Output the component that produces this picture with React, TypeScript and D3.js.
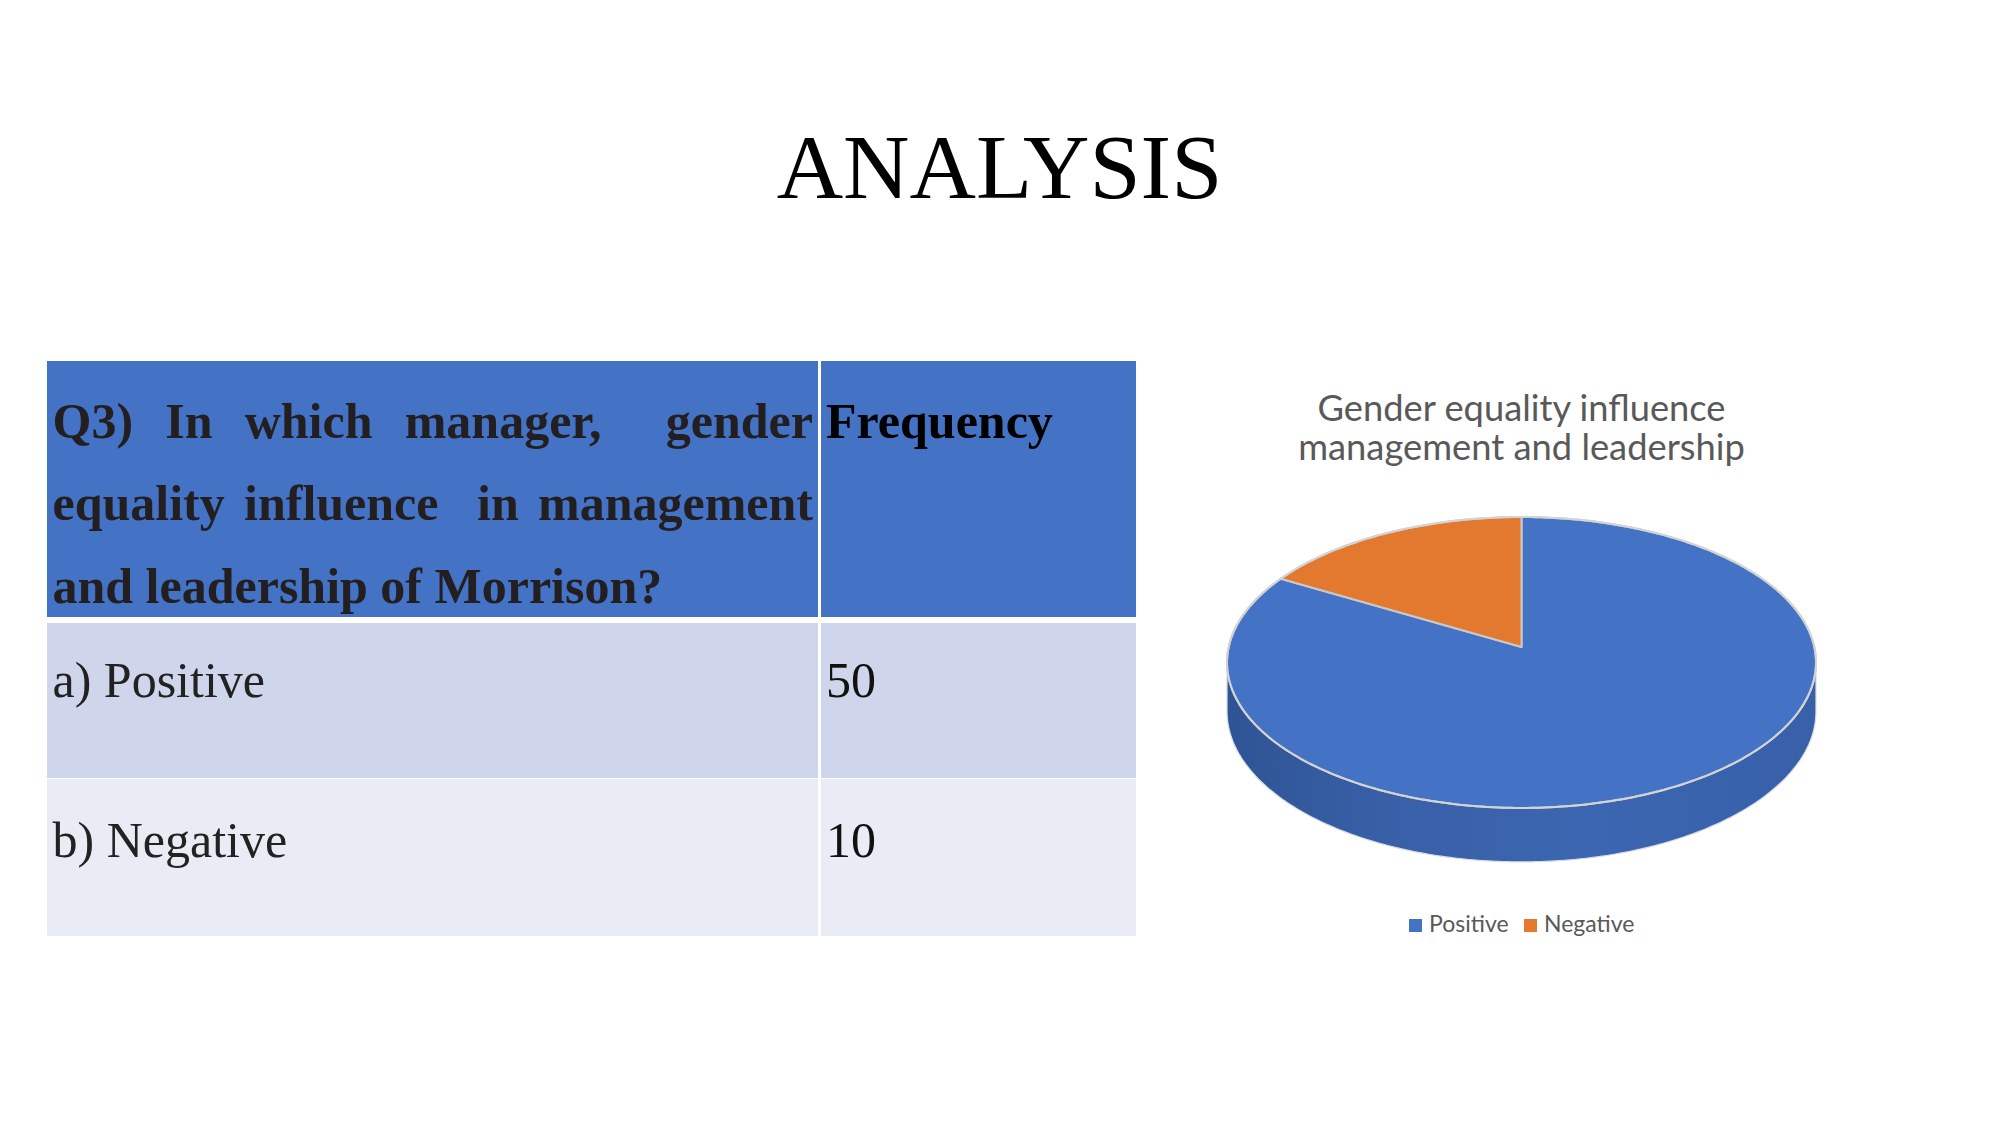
import React from "react";
import * as d3 from "d3";

// ---- data ----
const categories = ["Positive", "Negative"];
const frequencies = [50, 10];
const rowLabels = ["a) Positive", "b) Negative"];
const headerLines = ["Q3) In which manager,  gender", "equality influence  in management", "and leadership of Morrison?"];
const headerJustify = [true, true, false];
const frequencyHeader = "Frequency";
const slideTitle = "ANALYSIS";
const chartTitleLines = ["Gender equality influence", "management and leadership"];
const sliceColors = ["#4472C4", "#E2792F"];

const W = 2001;
const H = 1125;

function measure(text: string, font: string): number {
  const c = document.createElement("canvas").getContext("2d")!;
  c.font = font;
  return c.measureText(text).width;
}

function JustifiedLine({ text, x, y, width, justify, fontSize, fill }: any) {
  const fontStr = `bold ${fontSize}px "Liberation Serif"`;
  if (!justify) {
    return (
      <text x={x} y={y} fontFamily='"Liberation Serif"' fontWeight="bold" fontSize={fontSize} fill={fill}>
        {text}
      </text>
    );
  }
  const natural = measure(text, fontStr);
  const nSpaces = (text.match(/ /g) || []).length;
  const extra = nSpaces > 0 ? (width - natural) / nSpaces : 0;
  const spaceW = measure(" ", fontStr);
  const parts = text.split(" ");
  const out: any[] = [];
  let cx = x;
  parts.forEach((p, i) => {
    if (p.length > 0) {
      out.push(
        <text key={i} x={cx} y={y} fontFamily='"Liberation Serif"' fontWeight="bold" fontSize={fontSize} fill={fill}>
          {p}
        </text>
      );
      cx += measure(p, fontStr);
    }
    if (i < parts.length - 1) cx += spaceW + extra;
  });
  return <g>{out}</g>;
}

export default function App() {
  // perspective pie projection
  const pcx = 1521.5;
  const pcy = 647;
  const A = 143.8;
  const B = 292.8;
  const k = 0.1065;
  const depthD = 48.2;

  const proj = (phi: number, r = 1, dz = 0): [number, number] => {
    const u = r * Math.sin(phi);
    const v = -r * Math.cos(phi);
    const den = 1 - k * v;
    return [pcx + (B * u) / den, pcy + (A * v) / den + dz / den];
  };

  const pie = d3.pie<number>().sort(null).value((d) => d)(frequencies);
  const line = d3.line<[number, number]>();

  const slicePaths = pie.map((s) => {
    const n = Math.max(8, Math.ceil(((s.endAngle - s.startAngle) / (2 * Math.PI)) * 360));
    const pts: [number, number][] = [[pcx, pcy]];
    for (let i = 0; i <= n; i++) {
      const a = s.startAngle + ((s.endAngle - s.startAngle) * i) / n;
      pts.push(proj(a));
    }
    return line(pts) + "Z";
  });

  const phiR = Math.acos(-k);
  const phiL = 2 * Math.PI - phiR;
  const sidePts: [number, number][] = [];
  const N = 200;
  for (let i = 0; i <= N; i++) sidePts.push(proj(phiR + ((phiL - phiR) * i) / N));
  for (let i = N; i >= 0; i--) sidePts.push(proj(phiR + ((phiL - phiR) * i) / N, 1, depthD));
  const sidePath = line(sidePts) + "Z";

  const rimPts: [number, number][] = [];
  for (let i = 0; i <= 360; i++) rimPts.push(proj((i / 360) * 2 * Math.PI));
  const rimPath = line(rimPts) + "Z";

  // table layout
  const tx0 = 47;
  const c1r = 818;
  const c2l = 821;
  const tx1 = 1136;
  const hy0 = 361;
  const hy1 = 617;
  const rows = [
    { y0: 623, y1: 778, fill: "#CFD5EA", base: 697 },
    { y0: 779, y1: 936, fill: "#E9EBF5", base: 857 },
  ];
  const fs = 50;
  const headerBaselines = [438, 520, 603];

  // legend
  const legendX = [1409, 1524];
  const legendY = 919;

  return (
    <svg width={W} height={H} style={{ position: "absolute", left: 0, top: 0, background: "#fff" }}>
      <rect x={0} y={0} width={W} height={H} fill="#fff" />
      <text x={999.5} y={198} textAnchor="middle" fontFamily='"Liberation Serif"' fontSize={92} fill="#000">
        {slideTitle}
      </text>

      {/* table */}
      <rect x={tx0} y={hy0} width={c1r - tx0} height={hy1 - hy0} fill="#4472C4" />
      <rect x={c2l} y={hy0} width={tx1 - c2l} height={hy1 - hy0} fill="#4472C4" />
      {rows.map((r, i) => (
        <g key={i}>
          <rect x={tx0} y={r.y0} width={c1r - tx0} height={r.y1 - r.y0} fill={r.fill} />
          <rect x={c2l} y={r.y0} width={tx1 - c2l} height={r.y1 - r.y0} fill={r.fill} />
        </g>
      ))}
      {headerLines.map((t, i) => (
        <JustifiedLine key={i} text={t} x={52.5} y={headerBaselines[i]} width={813 - 52.5} justify={headerJustify[i]} fontSize={fs} fill="#231F20" />
      ))}
      <text x={826} y={headerBaselines[0]} fontFamily='"Liberation Serif"' fontWeight="bold" fontSize={fs} fill="#000">
        {frequencyHeader}
      </text>
      {rows.map((r, i) => (
        <g key={"t" + i}>
          <text x={52.5} y={r.base} fontFamily='"Liberation Serif"' fontSize={fs} fill="#222">
            {rowLabels[i]}
          </text>
          <text x={826} y={r.base} fontFamily='"Liberation Serif"' fontSize={fs} fill="#111">
            {String(frequencies[i])}
          </text>
        </g>
      ))}

      {/* chart */}
      <text textAnchor="middle" fontFamily="Lato" fontSize={36.3} fill="#595959">
        {chartTitleLines.map((t, i) => (
          <tspan key={i} x={1521.5} y={421 + i * 39}>
            {t}
          </tspan>
        ))}
      </text>
      <defs>
        <linearGradient id="sideGrad" x1="0" x2="1" y1="0" y2="0">
          <stop offset="0" stopColor="#2E5494" />
          <stop offset="0.25" stopColor="#385FA6" />
          <stop offset="0.6" stopColor="#3C66B1" />
          <stop offset="1" stopColor="#3760A9" />
        </linearGradient>
      </defs>
      <path d={sidePath} fill="url(#sideGrad)" stroke="#D6DCE5" strokeWidth={1.2} />
      {slicePaths.map((d, i) => (
        <path key={i} d={d} fill={sliceColors[i]} stroke="#C9C9C9" strokeWidth={2} strokeLinejoin="round" />
      ))}
      <path d={rimPath} fill="none" stroke="#D3D3D3" strokeWidth={2} />

      {/* legend */}
      {categories.map((c, i) => (
        <g key={c}>
          <rect x={legendX[i]} y={legendY} width={13} height={13} fill={sliceColors[i]} />
          <text x={legendX[i] + 20} y={legendY + 13} fontFamily="Lato" fontSize={23} fill="#595959">
            {c}
          </text>
        </g>
      ))}
    </svg>
  );
}
